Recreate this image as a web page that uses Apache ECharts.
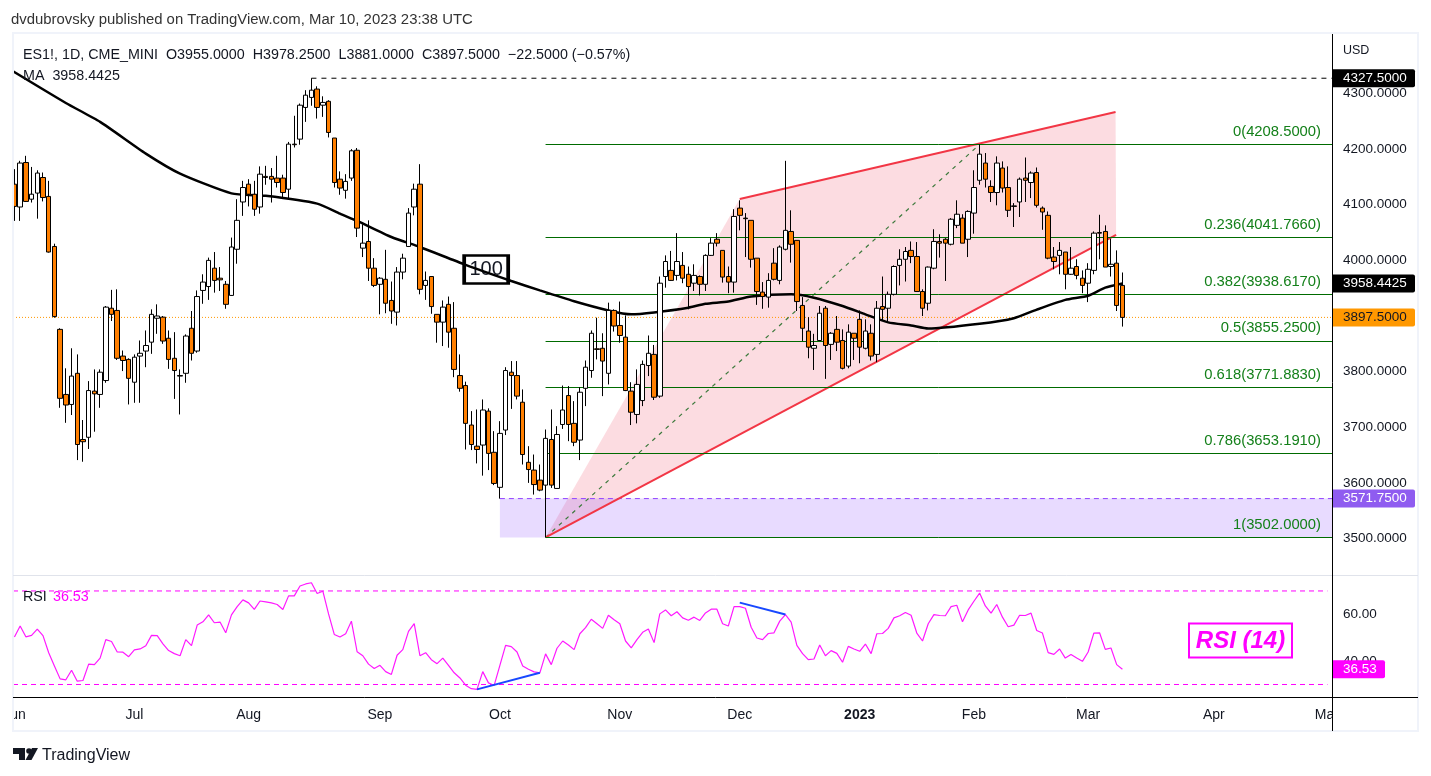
<!DOCTYPE html>
<html>
<head>
<meta charset="utf-8">
<title>ES1! 1D</title>
<style>
  html, body { margin: 0; padding: 0; background: #fff; }
  #container { width: 1431px; height: 776px; }
</style>
<script src="https://cdn.jsdelivr.net/npm/echarts@6/dist/echarts.min.js"></script>
</head>
<body>
<div id="container"></div>
<script>
var opens = [
  4137,4096,4176,4110,4121,4149,4115,4025,3876,3759,
  3741,3797,3678,3682,3765,3759,3784,3914,3910,3828,
  3822,3781,3828,3837,3853,3896,3898,3860,3824,3793,
  3797,3878,3837,3946,3953,3986,3968,3957,3937,4020,
  4105,4137,4119,4096,4151,4151,4148,4148,4128,4209,
  4218,4275,4293,4308,4279,4286,4220,4146,4126,4148,
  4198,4022,4034,3986,3957,3966,3928,3907,3979,4025,
  4096,4137,3955,3971,3903,3889,3921,3878,3793,3775,
  3704,3666,3668,3729,3655,3592,3695,3799,3793,3745,
  3637,3623,3605,3596,3678,3590,3705,3757,3707,3677,
  3770,3802,3841,3842,3797,3910,3883,3862,3765,3723,
  3748,3811,3831,3756,3971,3982,3973,3991,3975,3959,
  3971,3957,4009,4038,4018,3971,3961,4094,4076,4072,
  4004,3943,3934,3995,3964,4020,4052,4036,3919,3873,
  3842,3856,3914,3849,3876,3856,3810,3869,3894,3842,
  3869,3831,3917,3914,3939,3991,4002,4018,4007,3944,
  3923,3986,4034,4038,4029,4063,4076,4038,4085,4144,
  4175,4133,4122,4166,4131,4098,4105,4148,4140,4158,
  4094,4081,4006,4009,4015,3975,3989,3968,3959,3982,
  4050,4052,3989,3995,3955
];
var closes = [
  4097,4175,4106,4119,4157,4113,4015,3899,3752,3740,
  3792,3669,3674,3766,3760,3799,3916,3903,3824,3820,
  3788,3826,3833,3847,3903,3900,3855,3822,3802,3792,
  3864,3833,3935,3961,4000,3964,3965,3921,4024,4072,
  4131,4119,4092,4155,4149,4146,4140,4122,4209,4208,
  4279,4297,4306,4275,4284,4230,4140,4130,4142,4197,
  4058,4031,3986,3955,3968,3923,3909,3979,4004,4085,
  4128,3948,3964,3917,3889,3916,3871,3804,3770,3707,
  3669,3660,3731,3653,3599,3689,3802,3793,3756,3651,
  3624,3597,3587,3680,3596,3687,3731,3705,3673,3763,
  3808,3869,3840,3819,3910,3882,3865,3766,3727,3777,
  3813,3833,3754,3959,3998,3964,3998,3968,3953,3973,
  3957,4009,4031,4031,3970,3961,4079,4081,4075,4002,
  3944,3935,3964,3966,4024,4054,4029,3926,3878,3844,
  3847,3905,3847,3869,3853,3806,3871,3860,3844,3873,
  3828,3914,3912,3939,3989,4002,4016,4007,3944,3914,
  3988,4034,4031,4031,4074,4083,4031,4088,4131,4191,
  4146,4122,4175,4130,4090,4097,4146,4144,4157,4099,
  4087,4004,3998,4018,3975,3986,3973,3955,3984,4049,
  4049,3988,3993,3919,3897.5
];
var lows = [
  4071,4071,4105,4104,4075,4106,4014,3897,3735,3708,
  3722,3641,3638,3661,3692,3735,3780,3891,3821,3801,
  3741,3744,3744,3808,3832,3868,3850,3805,3751,3723,
  3780,3820,3834,3922,3929,3942,3945,3913,3936,3994,
  4080,4097,4080,4084,4136,4104,4131,4112,4110,4203,
  4208,4249,4278,4255,4258,4221,4131,4118,4111,4143,
  4042,4006,3963,3952,3903,3905,3886,3883,3966,4024,
  4081,3939,3929,3904,3852,3846,3843,3790,3764,3660,
  3659,3635,3613,3623,3596,3571.75,3686,3733,3750,3633,
  3600,3579,3585,3502,3591,3590,3697,3675,3666,3641,
  3738,3789,3822,3756,3777,3872,3852,3765,3704,3707,
  3738,3792,3749,3753,3951,3963,3964,3959,3912,3945,
  3937,3945,4008,4025,3960,3941,3942,4054,4006,3987,
  3920,3913,3915,3964,3957,4018,3996,3909,3855,3824,
  3803,3855,3787,3821,3837,3804,3806,3821,3815,3840,
  3820,3817,3891,3891,3937,3955,3962,3995,3944,3900,
  3910,3984,4005,3963,4027,4058,4031,4006,4048,4136,
  4131,4105,4099,4122,4078,4060,4078,4105,4112,4095,
  4055,4002,3984,3975,3948,3974,3966,3941,3925,3975,
  4002,3988,3971,3909,3881
];
var highs = [
  4164,4179,4188,4168,4162,4158,4143,4030,3878,3806,
  3842,3831,3713,3783,3804,3804,3918,3947,3948,3838,
  3824,3831,3856,3874,3912,3921,3900,3874,3871,3804,
  3867,3909,3946,3975,4005,4015,3988,3963,4041,4110,
  4143,4146,4143,4169,4170,4166,4188,4154,4213,4260,
  4282,4306,4327.5,4313,4295,4288,4220,4160,4155,4200,
  4202,4065,4072,4004,3970,4019,3962,3988,4012,4094,
  4138,4173,3980,3971,3903,3928,3935,3925,3831,3782,
  3729,3732,3750,3734,3693,3711,3808,3819,3819,3768,
  3666,3651,3633,3696,3732,3702,3775,3774,3747,3772,
  3820,3874,3897,3869,3924,3912,3926,3901,3781,3804,
  3820,3865,3848,3971,4009,4017,4049,4015,3989,3993,
  3973,4011,4040,4049,4018,3989,4092,4108,4085,4072,
  4004,3961,3977,4022,4027,4179,4090,4036,3934,3898,
  3868,3918,3918,3871,3900,3876,3885,3869,3910,3894,
  3885,3927,3971,3944,3991,4020,4024,4034,4033,3948,
  3989,4056,4047,4040,4076,4108,4083,4090,4162,4208.5,
  4193,4144,4187,4178,4169,4103,4149,4185,4160,4167,
  4097,4088,4024,4033,4015,4024,4002,3982,3995,4052,
  4082,4063,4039,4018,3978.25
];
var rsiValues = [
  50.3,55.0,50.4,51.0,53.7,50.9,43.6,37.9,32.4,32.0,
  36.1,31.4,31.7,38.7,38.5,41.3,49.2,48.4,43.9,43.8,
  41.9,44.8,45.2,46.6,51.0,50.9,47.4,44.5,43.2,42.3,
  49.2,46.6,55.4,56.8,59.8,56.4,56.7,52.1,59.8,63.3,
  66.2,64.9,62.1,65.7,65.3,64.9,64.2,62.1,67.9,67.9,
  72.1,73.0,73.5,68.9,69.9,60.2,51.4,50.3,51.7,57.1,
  44.0,42.3,38.7,36.8,38.2,35.5,34.3,42.5,44.9,52.7,
  56.0,42.3,43.6,40.6,38.9,41.3,38.2,35.0,32.8,29.7,
  28.2,27.9,35.5,30.7,29.6,38.2,46.7,46.2,43.9,37.9,
  36.5,35.4,35.0,43.1,38.5,45.5,48.6,46.9,44.9,51.7,
  54.3,57.9,56.0,54.0,59.6,57.7,56.0,48.6,45.7,49.2,
  52.3,53.7,47.9,60.2,61.9,59.4,61.1,58.5,57.5,58.8,
  57.4,60.6,62.2,62.2,56.0,55.0,63.3,63.3,62.6,54.5,
  49.9,49.2,51.8,52.1,57.1,59.9,56.7,46.7,43.2,40.6,
  40.9,46.9,42.3,44.5,43.3,39.5,46.3,45.2,44.2,47.3,
  43.2,51.7,51.8,54.0,58.5,59.4,60.8,59.6,52.0,48.6,
  56.0,59.9,59.5,59.4,63.3,63.9,56.8,61.9,65.6,69.1,
  63.6,60.5,64.2,58.8,54.7,55.4,59.6,59.5,60.5,53.1,
  52.0,43.6,42.9,45.2,41.3,42.8,41.3,39.9,43.9,52.0,
  52.1,45.0,45.6,38.5,36.53
];
// moving average at these bars
var maBars = [-0.25,9,15,23,29,38,44,53,57,60,66,71,79,87,92,98,104,108,112,118,121,125,129,136,140,145,149,153,157,160,169,175,179,184,188,191,194];
var maValues = [4340,4283,4249,4192,4156,4120.5,4116,4102,4084,4071,4042,4024,3992,3963,3946,3926.5,3910,3903,3906.5,3915,3922,3926,3935,3939,3933,3918,3903,3888.5,3883,3877.5,3886,3896,3911.5,3929,3936.5,3951,3958.44];

var fibNames = ['0','0.236','0.382','0.5','0.618','0.786','1'];
var fibLevels = [4208.5,4041.766,3938.617,3855.25,3771.883,3653.191,3502];
var fibStartBar = 93;

var wedgeBars = [93,127,192.8,192.9];
var wedgePrices = [3502,4110.4,4266.8,4045.7];
var diagonalBars = [93,169];
var diagonalPrices = [3502,4208.5];
var boxStartBar = 85;
var boxTop = 3571.75;
var boxBottom = 3502;
var highLineBar = 52;
var highLinePrice = 4327.5;
var lastClose = 3897.5;
var rsiBands = [70,30];
var divergenceUpBars = [81,92];
var divergenceUpValues = [27.9,35.0];
var divergenceDownBars = [127,135];
var divergenceDownValues = [65.0,59.9];

var priceTicks = [3500,3600,3700,3800,3900,4000,4100,4200,4300];
var rsiTicks = [40,60];
var monthBars = [0,21,41,64,85,106,127,148,168,188,210,230];
var monthNames = ['Jun','Jul','Aug','Sep','Oct','Nov','Dec','2023','Feb','Mar','Apr','May'];
var priceTags = [4327.5,3958.4425,3897.5,3571.75];
var priceTagFills = ['#000000','#000000','#ff9800','#8f5cf0'];
var priceTagInks = ['#ffffff','#ffffff','#131722','#ffffff'];

var xMin = -0.252;
var xMax = 230.7;
var FONT = '"Liberation Sans", sans-serif';
var INK = '#131722';

function candleRows() {
  return opens.map(function (o, i) {
    return [i, o, closes[i], lows[i], highs[i]];
  });
}

function pairs(xs, ys) {
  return xs.map(function (x, i) { return [x, ys[i]]; });
}

function flatLine(name, price, from, to, color, dash, gridIndex, z) {
  return {
    name: name, type: 'line', xAxisIndex: gridIndex, yAxisIndex: gridIndex, z: z,
    data: [[from, price], [to, price]], symbol: 'none', silent: true,
    lineStyle: { color: color, width: 1, type: dash }
  };
}

function segment(name, xs, ys, color, width, dash, gridIndex, z) {
  return {
    name: name, type: 'line', xAxisIndex: gridIndex, yAxisIndex: gridIndex, z: z,
    data: pairs(xs, ys), symbol: 'none', silent: true,
    lineStyle: { color: color, width: width, type: dash }
  };
}

function polygonSeries(name, xs, ys, fill, z) {
  return {
    name: name, type: 'custom', xAxisIndex: 0, yAxisIndex: 0, z: z, silent: true, data: [0],
    renderItem: function (params, api) {
      return {
        type: 'polygon',
        shape: { points: xs.map(function (x, i) { return api.coord([x, ys[i]]); }) },
        style: { fill: fill }
      };
    }
  };
}

function tagSeries(values, fills, inks, width, gridIndex) {
  return {
    type: 'custom', xAxisIndex: gridIndex, yAxisIndex: gridIndex, z: 20, silent: true,
    data: values.map(function (v) { return [xMax, v]; }),
    renderItem: function (params, api) {
      var p = api.coord([api.value(0), api.value(1)]);
      var i = params.dataIndex;
      var text = gridIndex === 0 ? values[i].toFixed(4) : values[i].toFixed(2);
      return {
        type: 'group', children: [
          { type: 'rect', shape: { x: p[0], y: p[1] - 9, width: width, height: 18, r: [0, 2, 2, 0] }, style: { fill: fills[i] } },
          { type: 'text', style: { x: p[0] + 11, y: p[1], text: text, fill: inks[i], font: '13.5px ' + FONT, verticalAlign: 'middle', align: 'left' } }
        ]
      };
    }
  };
}

function label(text, x, y, color, size, extra) {
  var style = { x: x, y: y, text: text, fill: color, font: (size || 13.5) + 'px ' + FONT, verticalAlign: 'middle' };
  return Object.assign({ type: 'text', z: 30, silent: true, style: style }, extra || {});
}

function furniture() {
  var FRAME = '#f0f3fa';
  return [
    { type: 'rect', z: 25, silent: true, shape: { x: 0, y: 33, width: 12, height: 700 }, style: { fill: '#fff' } },
    { type: 'rect', z: 25, silent: true, shape: { x: 1333, y: 698, width: 85, height: 32 }, style: { fill: '#fff' } },
    { type: 'rect', z: 26, silent: true, shape: { x: 13, y: 33, width: 1405, height: 698 }, style: { fill: 'none', stroke: FRAME, lineWidth: 2 } },
    { type: 'line', z: 26, silent: true, shape: { x1: 13, y1: 575.5, x2: 1418, y2: 575.5 }, style: { stroke: '#e0e3eb', lineWidth: 1 } },
    { type: 'line', z: 26, silent: true, shape: { x1: 13, y1: 697.5, x2: 1418, y2: 697.5 }, style: { stroke: '#000', lineWidth: 1 } },
    { type: 'line', z: 26, silent: true, shape: { x1: 1332.5, y1: 34, x2: 1332.5, y2: 731 }, style: { stroke: '#000', lineWidth: 1 } },
    label('dvdubrovsky published on TradingView.com, Mar 10, 2023 23:38 UTC', 11, 20, '#333333', 14.9),
    label('ES1!, 1D, CME_MINI  O3955.0000  H3978.2500  L3881.0000  C3897.5000  \u221222.5000 (\u22120.57%)', 23, 55, INK, 14.3),
    label('MA  3958.4425', 23, 76, INK, 14.3),
    label('RSI', 23, 597, INK, 14.3),
    label('36.53', 53, 597, '#ff00ff', 14.3),
    label('USD', 1343, 51, INK, 12.5),
    {
      type: 'rect', z: 30, silent: true,
      shape: { x: 1189, y: 623.5, width: 103, height: 34 },
      style: { fill: '#fff', stroke: '#ff00ff', lineWidth: 2 }
    },
    {
      type: 'text', z: 31, silent: true,
      style: { x: 1240.5, y: 641, text: 'RSI (14)', fill: '#ff00ff', font: 'italic bold 24px ' + FONT, align: 'center', verticalAlign: 'middle' }
    },
    { type: 'polygon', z: 30, silent: true, shape: { points: [[13, 748], [25, 748], [25, 760], [19, 760], [19, 754], [13, 754]] }, style: { fill: INK } },
    { type: 'circle', z: 30, silent: true, shape: { cx: 29, cy: 751, r: 2.8 }, style: { fill: INK } },
    { type: 'polygon', z: 30, silent: true, shape: { points: [[38, 748], [31.5, 760], [25.5, 760], [32, 748]] }, style: { fill: INK } },
    label('TradingView', 42, 756, INK, 16)
  ];
}

function fibSeries() {
  return {
    name: 'Fib', type: 'line', xAxisIndex: 0, yAxisIndex: 0, z: 3, silent: true, data: [],
    markLine: {
      silent: true, symbol: 'none', animation: false,
      data: fibLevels.map(function (level, i) {
        return [
          { coord: [fibStartBar, level],
            lineStyle: { color: '#006b00', width: 1, type: 'solid' },
            label: {
              show: true, position: 'insideEndTop', distance: [11, 5], color: '#14801a', fontFamily: FONT, fontSize: 14.8,
              formatter: fibNames[i] + '(' + level.toFixed(4) + ')'
            }
          },
          { coord: [xMax, level] }
        ];
      })
    }
  };
}

var dom = document.getElementById('container');
var chart = echarts.init(dom, null, { renderer: 'canvas' });

var sideLabel = {
  show: true, color: INK, fontFamily: FONT, fontSize: 13.5, margin: 11
};

chart.setOption({
  animation: false,
  backgroundColor: '#ffffff',
  grid: [
    { left: 13, top: 35, width: 1319, height: 540 },
    { left: 13, top: 576, width: 1319, height: 121 }
  ],
  xAxis: [
    { type: 'value', gridIndex: 0, min: xMin, max: xMax, axisLine: { show: false }, axisTick: { show: false }, axisLabel: { show: false }, splitLine: { show: false } },
    {
      type: 'value', gridIndex: 1, min: xMin, max: xMax, axisLine: { show: false }, axisTick: { show: false }, splitLine: { show: false },
      axisLabel: {
        show: true, color: INK, fontFamily: FONT, fontSize: 14, margin: 11, showMinLabel: true, showMaxLabel: true,
        customValues: monthBars,
        formatter: function (v) {
          var name = monthNames[monthBars.indexOf(v)];
          return name === '2023' ? '{b|2023}' : name;
        },
        rich: { b: { fontWeight: 'bold', fontFamily: FONT, fontSize: 14, color: INK } }
      }
    }
  ],
  yAxis: [
    {
      type: 'value', gridIndex: 0, position: 'right', min: 3434.4, max: 4405.2, axisLine: { show: false }, axisTick: { show: false }, splitLine: { show: false },
      axisLabel: Object.assign({}, sideLabel, {
        customValues: priceTicks,
        formatter: function (v) { return v.toFixed(4); }
      })
    },
    {
      type: 'value', gridIndex: 1, position: 'right', min: 24.65, max: 76.4, axisLine: { show: false }, axisTick: { show: false }, splitLine: { show: false },
      axisLabel: Object.assign({}, sideLabel, {
        customValues: rsiTicks,
        formatter: function (v) { return v.toFixed(2); }
      })
    }
  ],
  series: [
    polygonSeries('Wedge', wedgeBars, wedgePrices, 'rgba(235,40,70,0.16)', 1),
    polygonSeries('Box', [boxStartBar, xMax, xMax, boxStartBar], [boxTop, boxTop, boxBottom, boxBottom], 'rgba(149,92,255,0.22)', 1),
    fibSeries(),
    flatLine('Box top', boxTop, boxStartBar, xMax, '#9040ff', [5, 4], 0, 3),
    flatLine('High', highLinePrice, highLineBar, xMax, '#000000', [5, 5], 0, 3),
    flatLine('Last', lastClose, xMin, xMax, '#ff9800', [1, 2], 0, 3),
    segment('Diagonal', diagonalBars, diagonalPrices, '#3d7a3d', 1.2, [4, 5], 0, 4),
    segment('Wedge low', [wedgeBars[0], wedgeBars[3]], [wedgePrices[0], wedgePrices[3]], '#f23645', 2, 'solid', 0, 4),
    segment('Wedge high', [wedgeBars[1], wedgeBars[2]], [wedgePrices[1], wedgePrices[2]], '#f23645', 2, 'solid', 0, 4),
    {
      name: 'MA', type: 'line', xAxisIndex: 0, yAxisIndex: 0, z: 5, symbol: 'none', smooth: 0.2, silent: true,
      data: pairs(maBars, maValues),
      lineStyle: { color: '#000000', width: 2.5 },
      markPoint: {
        silent: true, animation: false,
        data: [{
          coord: [82.6, 3983.6], symbol: 'rect', symbolSize: [44, 28],
          itemStyle: { color: '#ffffff', borderColor: '#000000', borderWidth: 3 },
          label: { show: true, position: 'inside', formatter: '100', color: INK, fontFamily: FONT, fontSize: 20 }
        }]
      }
    },
    {
      name: 'ES1!', type: 'candlestick', xAxisIndex: 0, yAxisIndex: 0, z: 8, silent: true,
      data: candleRows(),
      encode: { x: 0, y: [1, 2, 3, 4] },
      barWidth: 5,
      itemStyle: {
        color: '#ffffff', color0: '#ff7f00',
        borderColor: '#000000', borderColor0: '#000000', borderColorDoji: '#000000', borderWidth: 1
      }
    },
    flatLine('RSI 70', rsiBands[0], xMin, 229.9, '#ff00ff', [5, 4], 1, 3),
    flatLine('RSI 30', rsiBands[1], xMin, 229.9, '#ff00ff', [5, 4], 1, 3),
    {
      name: 'RSI', type: 'line', xAxisIndex: 1, yAxisIndex: 1, z: 5, symbol: 'none', silent: true,
      data: rsiValues.map(function (v, i) { return [i, v]; }),
      lineStyle: { color: '#ff19ff', width: 1.2 }
    },
    segment('Divergence up', divergenceUpBars, divergenceUpValues, '#1848ff', 2, 'solid', 1, 6),
    segment('Divergence down', divergenceDownBars, divergenceDownValues, '#1848ff', 2, 'solid', 1, 6),
    tagSeries(priceTags, priceTagFills, priceTagInks, 83, 0),
    tagSeries([36.53], ['#ff00ff'], ['#ffffff'], 53, 1)
  ],
  graphic: { elements: furniture() }
});

window.addEventListener('resize', function () {
  chart.resize();
});
</script>
</body>
</html>
